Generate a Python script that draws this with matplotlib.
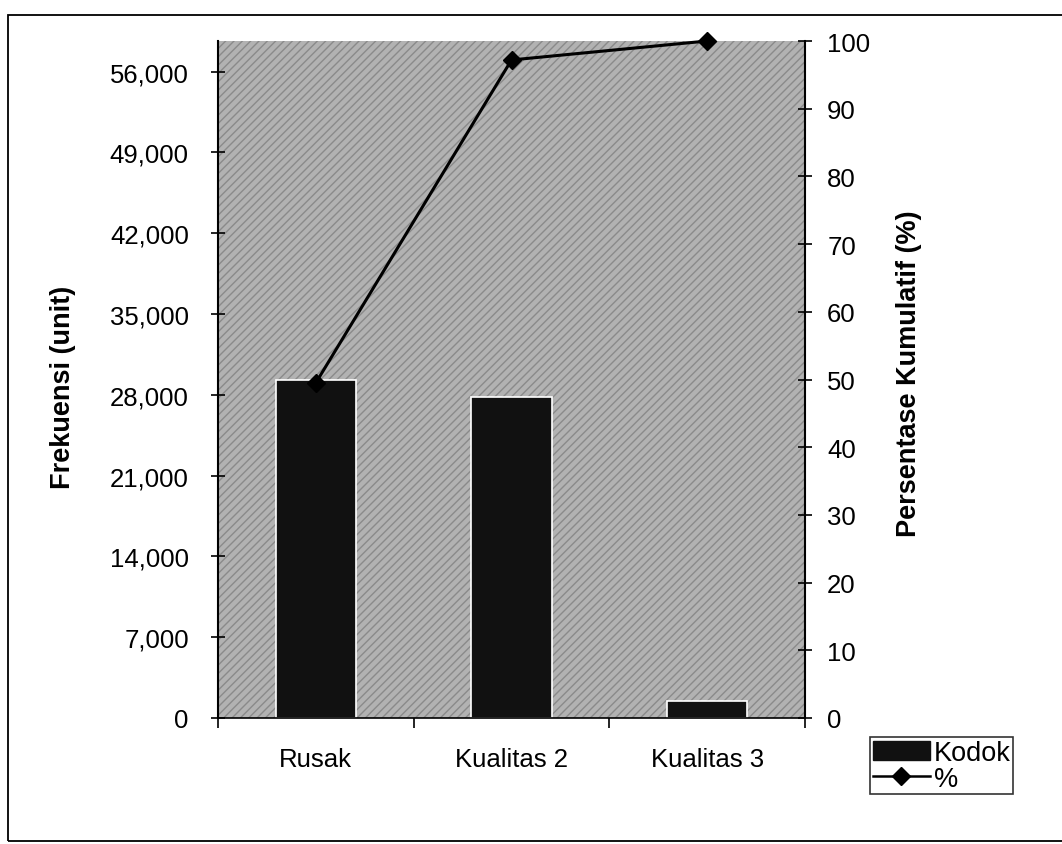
import matplotlib.pyplot as plt
from matplotlib.ticker import FuncFormatter, MultipleLocator
from matplotlib.patches import Rectangle
from matplotlib.lines import Line2D

plt.rcParams['font.family'] = ['Liberation Sans', 'DejaVu Sans']

categories = ['Rusak', 'Kualitas 2', 'Kualitas 3']
frekuensi = [29300, 27850, 1500]
persen_kumulatif = [49.5, 97.2, 100]
left_ticks = [0, 7000, 14000, 21000, 28000, 35000, 42000, 49000, 56000]
right_ticks = [0, 10, 20, 30, 40, 50, 60, 70, 80, 90, 100]

fig = plt.figure(figsize=(10.62, 8.45), dpi=100)
fig.patch.set_facecolor('white')

# outer frame of the chart (right edge runs off the page)
fig.patches.append(Rectangle((8 / 1062, 3 / 845), 1080 / 1062, 826 / 845,
                             transform=fig.transFigure, fill=False,
                             edgecolor='black', linewidth=1.3))

ax = fig.add_axes([218 / 1062, 1 - 719 / 845, 587 / 1062, 677 / 845])
ax.set_facecolor('#b2b2b2')
ax.patch.set_hatch('////')
ax.patch.set_edgecolor('#8a8a8a')

x = list(range(len(categories)))
ax.bar(x, frekuensi, width=0.41, color='#111111', edgecolor='white',
       linewidth=1.2, zorder=2, label='Kodok')
ax.set_xlim(-0.5, 2.5)
ax.set_ylim(0, sum(frekuensi))
ax.set_yticks(left_ticks)
ax.yaxis.set_major_formatter(FuncFormatter(lambda v, p: f'{int(v):,}'))
ax.set_xticks(x)
ax.set_xticklabels(categories)
ax.xaxis.set_minor_locator(MultipleLocator(1, offset=0.5))
ax.tick_params(axis='x', which='major', length=0, pad=21, labelsize=18.5)
ax.tick_params(axis='x', which='minor', length=7, width=1.2, direction='out')
ax.tick_params(axis='y', length=10, width=1.2, direction='inout', pad=16,
               labelsize=18.5)
for s in ['top', 'right']:
    ax.spines[s].set_visible(False)
ax.spines['left'].set_linewidth(1.5)
ax.spines['bottom'].set_linewidth(1.2)
ax.set_ylabel('Frekuensi (unit)', fontsize=19.5, fontweight='bold')
ax.yaxis.set_label_coords(-0.242, 0.49)

ax2 = ax.twinx()
ax2.plot(x, persen_kumulatif, color='black', linewidth=2.2, marker='D',
         markersize=9, zorder=3, clip_on=False, label='%')
ax2.set_ylim(0, 100)
ax2.set_yticks(right_ticks)
ax2.tick_params(axis='y', length=10, width=1.2, direction='inout', pad=11,
                labelsize=18.5)
for s in ['top', 'left', 'bottom']:
    ax2.spines[s].set_visible(False)
ax2.spines['right'].set_linewidth(1.5)
ax2.set_ylabel('Persentase Kumulatif (%)', fontsize=19.5, fontweight='bold')
ax2.yaxis.set_label_coords(1.155, 0.51)

handles = [Rectangle((0, 0), 1, 1, facecolor='#111111', edgecolor='#111111'),
           Line2D([], [], color='black', linewidth=1.8, marker='D', markersize=9)]
leg = fig.legend(handles, ['Kodok', '%'], loc='upper left',
                 bbox_to_anchor=(870 / 1062, 1 - 738 / 845),
                 frameon=True, fancybox=False, fontsize=19.5,
                 handlelength=2.1, handletextpad=0.15, labelspacing=0.0,
                 borderpad=0.1, borderaxespad=0)
leg.get_frame().set_edgecolor('black')
leg.get_frame().set_linewidth(1.2)

fig.savefig('out.png', dpi=100)
